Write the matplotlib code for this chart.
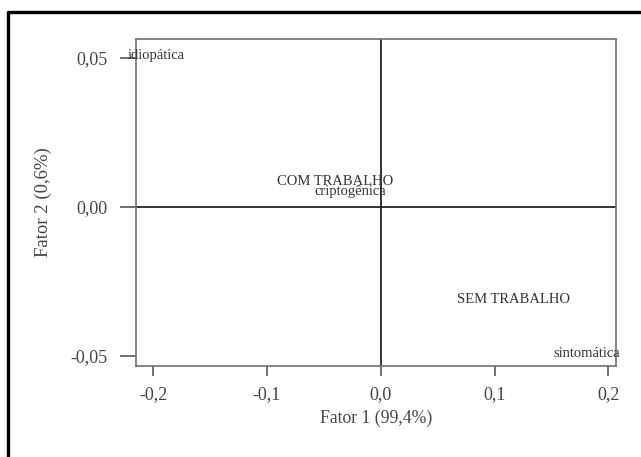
import matplotlib
matplotlib.use("Agg")
import matplotlib.pyplot as plt
from matplotlib.lines import Line2D

# Data (label positions)
labels = ["idiopática", "COM TRABALHO", "criptogênica", "SEM TRABALHO", "sintomática"]
fator1 = [-0.1976, -0.0403, -0.0271, 0.117, 0.1807]
fator2 = [0.0507, 0.0087, 0.0052, -0.0309, -0.0493]

xticks = [-0.2, -0.1, 0.0, 0.1, 0.2]
xticklabels = ["-0,2", "-0,1", "0,0", "0,1", "0,2"]
yticks = [-0.05, 0.0, 0.05]
yticklabels = ["-0,05", "0,00", "0,05"]

plt.rcParams['font.family'] = ['Liberation Serif', 'DejaVu Serif']

W, H = 641, 457
fig = plt.figure(figsize=(W / 100, H / 100), dpi=100)
ax = fig.add_axes([136 / W, 1 - 366 / H, (616 - 136) / W, (366 - 39) / H])

ax.set_xlim(-0.2152, 0.2068)
ax.set_ylim(-0.05336, 0.05638)

ax.axhline(0, color='#111111', lw=1.2, zorder=1)
ax.axvline(0, color='#111111', lw=1.2, zorder=1)

for lab, x, y in zip(labels, fator1, fator2):
    ax.text(x, y, lab, ha='center', va='center', fontsize=10.5,
            color='#333333', zorder=3, clip_on=False)

ax.set_xticks(xticks)
ax.set_xticklabels(xticklabels, fontsize=13, color='#444444')
ax.set_yticks(yticks)
ax.set_yticklabels(yticklabels, fontsize=13, color='#444444')
ax.tick_params(axis='x', direction='out', length=7.5, width=1.2, color='#555555', pad=7)
ax.tick_params(axis='y', direction='out', length=11.5, width=1.2, color='#555555', pad=9)

for s in ax.spines.values():
    s.set_color('#707070')
    s.set_linewidth(1.2)

ax.set_xlabel("Fator 1 (99,4%)", fontsize=12.7, color='#444444', labelpad=5)
ax.set_ylabel("Fator 2 (0,6%)", fontsize=13.5, color='#444444', labelpad=13)

# outer frame (top and left edges visible)
fx = 7.5 / W
fy = 1 - 11.5 / H
fig.add_artist(Line2D([fx, fx, 1.01], [-0.01, fy, fy], transform=fig.transFigure,
                      color='black', lw=2.4))

fig.savefig("out.png", dpi=100)
